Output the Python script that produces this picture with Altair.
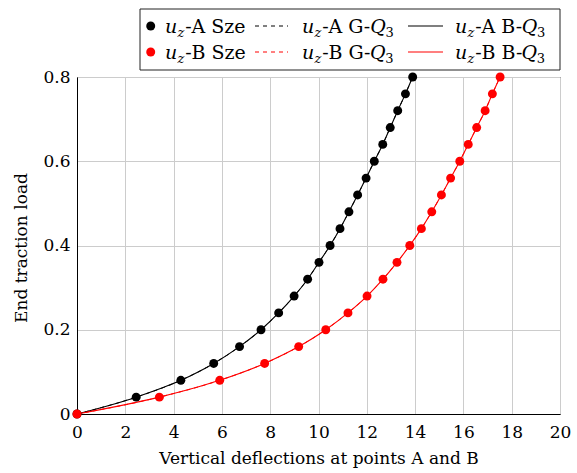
import altair as alt
import pandas as pd

# ---- data ----
load = [0.00, 0.04, 0.08, 0.12, 0.16, 0.20, 0.24, 0.28, 0.32, 0.36, 0.40,
        0.44, 0.48, 0.52, 0.56, 0.60, 0.64, 0.68, 0.72, 0.76, 0.80]
defl_A = [0.0, 2.45, 4.30, 5.66, 6.73, 7.62, 8.35, 8.99, 9.55, 10.02, 10.48,
          10.89, 11.26, 11.62, 11.97, 12.31, 12.66, 12.97, 13.28, 13.60, 13.90]
defl_B = [0.0, 3.41, 5.91, 7.77, 9.18, 10.30, 11.22, 12.01, 12.67, 13.25, 13.78,
          14.26, 14.69, 15.09, 15.47, 15.85, 16.20, 16.55, 16.90, 17.20, 17.52]
series_names = ["A", "B"]
series_colors = ["black", "#ff0000"]
x_ticks = list(range(0, 21, 2))
y_ticks = [0, 0.2, 0.4, 0.6, 0.8]

FONT = "DejaVu Serif"

rows = []
for s, xs in zip(series_names, [defl_A, defl_B]):
    for x, y in zip(xs, load):
        rows.append({"defl": x, "load": y, "series": s})
df = pd.DataFrame(rows)

xenc = alt.X("defl:Q", scale=alt.Scale(domain=[0, 20], nice=False),
             axis=alt.Axis(values=x_ticks, title="Vertical deflections at points A and B",
                           titleX=241.5, titleY=44, titleBaseline="middle",
                           labelPadding=10, labelFlush=False, labelOverlap=False))
yenc = alt.Y("load:Q", scale=alt.Scale(domain=[0, 0.8], nice=False),
             axis=alt.Axis(values=y_ticks, format="~g", title="End traction load",
                           titleX=-56, titleY=170.5, titleAngle=270,
                           titleAlign="center", titleBaseline="middle",
                           labelPadding=7, labelFlush=False, labelOverlap=False))
cenc = alt.Color("series:N", scale=alt.Scale(domain=series_names, range=series_colors),
                 legend=None)

base = alt.Chart(df)
dashed = base.mark_line(strokeDash=[4, 4], strokeWidth=1, interpolate="monotone").encode(
    x=xenc, y=yenc, color=cenc, detail="series:N", order="load:Q")
solid = base.mark_line(strokeWidth=1.1, interpolate="monotone").encode(
    x=xenc, y=yenc, color=cenc, detail="series:N", order="load:Q")
points = base.mark_circle(size=80, opacity=1).encode(x=xenc, y=yenc, color=cenc)

# ---- custom legend (pixel layout relative to plot origin) ----
OX, OY = 77, 77
F = 19
SUB = 13
# approximate DejaVu Serif advance widths (em)
cw = {'-': 0.338, 'A': 0.722, 'B': 0.70, ' ': 0.318, 'S': 0.645,
      'z': 0.525, 'e': 0.592, 'G': 0.776}
W_U_IT, W_Z_IT, W_Q_IT = 0.644, 0.525, 0.787
def width(t, size):
    return sum(cw[c] for c in t) * size

row_center = [26 - OY, 52 - OY]
col_start = [165, 302, 455]
suffixes = [" Sze", " G-", " B-"]

reg, ital, subital, subnum = [], [], [], []
for r, s in enumerate(series_names):
    base_y = row_center[r] + 6.5
    for c in range(3):
        x = col_start[c] - OX
        ital.append({"px": x, "py": base_y, "t": "u"}); x += W_U_IT * F + 0.3
        subital.append({"px": x, "py": base_y + 4.5, "t": "z"}); x += W_Z_IT * SUB + 0.8
        txt = "-" + s + suffixes[c]
        reg.append({"px": x, "py": base_y, "t": txt}); x += width(txt, F) + 0.8
        if c > 0:
            ital.append({"px": x, "py": base_y, "t": "Q"}); x += W_Q_IT * F + 0.3
            subnum.append({"px": x, "py": base_y + 4.5, "t": "3"})

def text_layer(d, size, style):
    return alt.Chart(pd.DataFrame(d)).mark_text(
        font=FONT, fontSize=size, fontStyle=style, align="left",
        baseline="alphabetic", color="black").encode(
        x=alt.X("px:Q", scale=None, axis=None),
        y=alt.Y("py:Q", scale=None, axis=None),
        text="t:N")

box = alt.Chart(alt.Data(values=[{}])).mark_rect(
    fill="white", stroke="#222222", strokeWidth=1).encode(
    x=alt.value(140 - OX), x2=alt.value(560 - OX),
    y=alt.value(9 - OY), y2=alt.value(70 - OY))

leg_items = []
for r in range(2):
    col = series_colors[r]
    yc = row_center[r]
    leg_items.append(alt.Chart(alt.Data(values=[{}])).mark_circle(
        size=80, opacity=1, color=col).encode(x=alt.value(150.7 - OX), y=alt.value(yc)))
    leg_items.append(alt.Chart(alt.Data(values=[{}])).mark_rule(
        color=col, strokeWidth=1, strokeDash=[4, 4]).encode(
        x=alt.value(255 - OX), x2=alt.value(288 - OX), y=alt.value(yc)))
    leg_items.append(alt.Chart(alt.Data(values=[{}])).mark_rule(
        color=col, strokeWidth=1.1).encode(
        x=alt.value(408 - OX), x2=alt.value(443 - OX), y=alt.value(yc)))

chart = alt.layer(
    dashed, solid, points, box, *leg_items,
    text_layer(reg, F, "normal"), text_layer(ital, F, "italic"),
    text_layer(subital, SUB, "italic"), text_layer(subnum, SUB, "normal"),
).properties(
    width=483, height=337,
    autosize=alt.AutoSizeParams(type="none"),
    padding={"left": 77, "top": 77, "right": 17, "bottom": 59},
    background="white",
).configure_view(
    stroke="black", strokeWidth=1
).configure_axis(
    labelFont=FONT, titleFont=FONT, labelFontSize=17, titleFontSize=17,
    labelColor="black", titleColor="black", titleFontWeight="normal",
    domainColor="black", domainWidth=1, tickSize=0,
    gridColor="#cccccc", gridWidth=1, gridOpacity=1,
)

chart.save("out.html", embed_options={"renderer": "svg", "actions": False})
